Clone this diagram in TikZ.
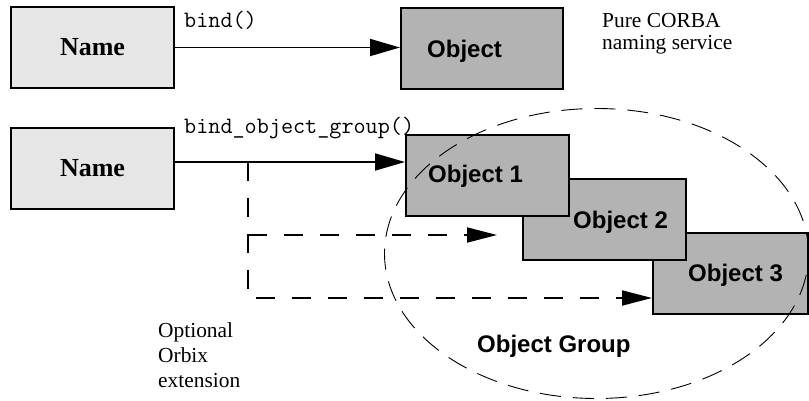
\documentclass[tikz,border=0pt]{standalone}
\usepackage{fontspec}
\setmainfont{Liberation Serif}
\newfontfamily\arialfont{Liberation Sans}
\usetikzlibrary{arrows.meta,shapes.geometric}
\definecolor{namefill}{HTML}{E6E6E6}
\definecolor{objfill}{HTML}{B3B3B3}
\begin{document}
\begin{tikzpicture}[x=1pt,y=-1pt,
  namebox/.style={draw, line width=2pt, fill=namefill, minimum width=163pt, minimum height=81pt, inner sep=0pt, font=\fontsize{26}{30}\selectfont\bfseries},
  objbox/.style={draw, line width=2pt, fill=objfill, inner sep=0pt, minimum height=81pt},
  objtext/.style={font=\arialfont\fontsize{24}{28}\selectfont\bfseries, anchor=base west, inner sep=0pt},
  codetext/.style={font=\ttfamily\fontsize{23.5}{26}\selectfont, anchor=base west, inner sep=0pt},
  note/.style={font=\fontsize{21.4}{22}\selectfont, align=left, anchor=north west, inner sep=0pt},
  solidarrow/.style={line width=1.8pt, -{Triangle[length=30pt,width=17pt]}},
  dasharrow/.style={line width=1.8pt, dash pattern=on 19pt off 17pt, -{Triangle[length=30pt,width=15pt]}},
  grouplimit/.style={draw, ellipse, line width=0.9pt, dash pattern=on 21pt off 12pt, minimum width=424pt, minimum height=290pt, inner sep=0pt}
]
\useasboundingbox (0,0) rectangle (809,400);

% top row
\node[namebox] (name1) at (92.5,47.5) {Name};
\node[objbox, minimum width=162pt] (obj) at (482,48.5) {};
\node[objtext] (objlbl) at (427,57) {Object};
\draw[solidarrow] (name1.east) -- (name1.east -| obj.west);
\node[codetext] (bindlbl) at (184,27) {bind()};
\node[note] (pure) at (602,13) {Pure CORBA\\naming service};

% bottom row
\node[namebox] (name2) at (92.5,168) {Name};
\node[objbox, minimum width=155pt] (obj3) at (730.5,273.5) {};
\node[objbox, minimum width=163pt] (obj2) at (604.5,219.5) {};
\node[objbox, minimum width=163pt] (obj1) at (487.5,175.5) {};
\node[objtext] (obj1lbl) at (428,182) {Object 1};
\node[objtext] (obj2lbl) at (573,228) {Object 2};
\node[objtext] (obj3lbl) at (688,281) {Object 3};
\node[codetext] (bindgrp) at (184,133) {bind\_object\_group()};

\draw[solidarrow] ([yshift=6pt]name2.east) -- ([yshift=13.5pt]obj1.west);

\coordinate (split) at (248,162);
\coordinate (bend) at (248,298);
\coordinate (mid) at (248,235);
\coordinate (midtip) at (497,235);
\draw[dasharrow] (split) -- (bend) -- (bend -| obj3.west);
\draw[dasharrow] (mid) -- (midtip);

\node[grouplimit] (group) at (596.5,253.5) {};
\node[objtext] (grouplbl) at (477,352) {Object Group};

\node[note, font=\fontsize{21.4}{25}\selectfont] (opt) at (158,322) {Optional\\Orbix\\extension};
\end{tikzpicture}
\end{document}
